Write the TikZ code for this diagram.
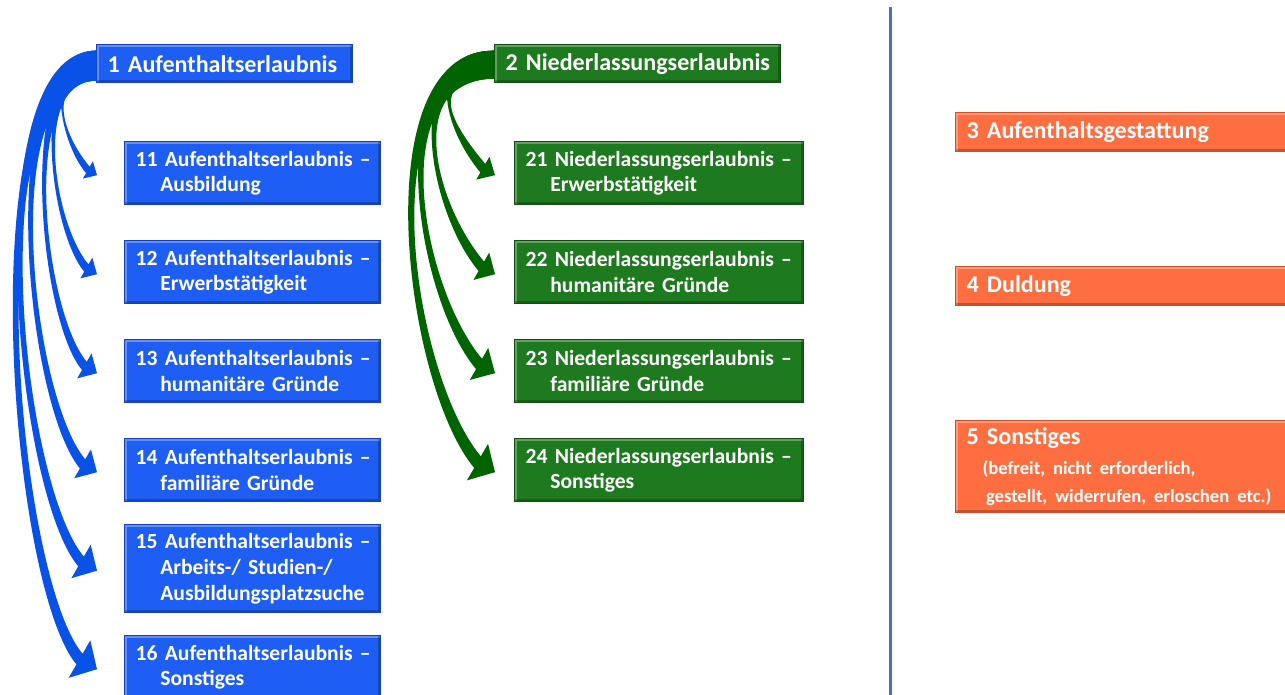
\documentclass[tikz,border=0pt]{standalone}
\usepackage{fontspec}
\setmainfont{Carlito}
\usetikzlibrary{calc}
\hyphenpenalty=10000
\exhyphenpenalty=10000

\definecolor{ablue}{RGB}{31,94,245}
\definecolor{abluedark}{RGB}{22,66,185}
\definecolor{abluearrow}{RGB}{8,82,232}
\definecolor{ngreen}{RGB}{30,122,30}
\definecolor{ngreendark}{RGB}{18,80,18}
\definecolor{ngreenarrow}{RGB}{0,100,0}
\definecolor{sorange}{RGB}{255,110,64}
\definecolor{sorangedark}{RGB}{210,80,40}
\definecolor{sepline}{RGB}{68,114,196}

\begin{document}
\begin{tikzpicture}[x=0.02cm,y=-0.02cm,text=white]
\tikzstyle{bevel}=[path picture={
  \draw[white,opacity=0.3,line width=2.5pt] (path picture bounding box.south west) -- (path picture bounding box.north west) -- (path picture bounding box.north east);
  \draw[black,opacity=0.25,line width=2.5pt] (path picture bounding box.north east) -- (path picture bounding box.south east) -- (path picture bounding box.south west);}]
\tikzstyle{head}=[anchor=north west,minimum height=0.76cm,inner xsep=0.22cm,inner ysep=0pt,align=left,bevel,font=\fontsize{13.7}{16}\selectfont\bfseries]
\tikzstyle{sub}=[anchor=north west,minimum height=1.26cm,inner xsep=0.22cm,inner ysep=0pt,align=left,bevel,font=\fontsize{12.3}{14.7}\selectfont\bfseries]
\tikzstyle{aufbox}=[fill=ablue,draw=abluedark,thick]
\tikzstyle{nlbox}=[fill=ngreen,draw=ngreendark,thick]
\tikzstyle{sonbox}=[fill=sorange,draw=sorangedark,thick,text width=6.22cm]
\useasboundingbox (0,0) rectangle (1285,695);

% Aufenthaltserlaubnis
\node[head,aufbox,text width=4.68cm] (a1) at (96,44) {\mbox{1 Aufenthaltserlaubnis}};
\node[sub,aufbox,text width=4.68cm] (a11) at (124,141) {\mbox{11 Aufenthaltserlaubnis –}\\\hspace*{14pt}Ausbildung};
\node[sub,aufbox,text width=4.68cm] (a12) at (124,240) {\mbox{12 Aufenthaltserlaubnis –}\\\hspace*{14pt}Erwerbstätigkeit};
\node[sub,aufbox,text width=4.68cm] (a13) at (124,339) {\mbox{13 Aufenthaltserlaubnis –}\\\hspace*{14pt}humanitäre Gründe};
\node[sub,aufbox,text width=4.68cm] (a14) at (124,438) {\mbox{14 Aufenthaltserlaubnis –}\\\hspace*{14pt}familiäre Gründe};
\node[sub,aufbox,text width=4.68cm,minimum height=1.76cm] (a15) at (124,524) {\mbox{15 Aufenthaltserlaubnis –}\\\hspace*{14pt}Arbeits-/ Studien-/\\\hspace*{14pt}\mbox{Ausbildungsplatzsuche}};
\node[sub,aufbox,text width=4.68cm] (a16) at (124,635) {\mbox{16 Aufenthaltserlaubnis –}\\\hspace*{14pt}Sonstiges};

% Niederlassungserlaubnis
\node[head,nlbox,text width=5.28cm] (n2) at (494,44) {\mbox{2 Niederlassungserlaubnis}};
\node[sub,nlbox,text width=5.34cm] (n21) at (514,141) {\mbox{21 Niederlassungserlaubnis –}\\\hspace*{14pt}Erwerbstätigkeit};
\node[sub,nlbox,text width=5.34cm] (n22) at (514,240) {\mbox{22 Niederlassungserlaubnis –}\\\hspace*{14pt}humanitäre Gründe};
\node[sub,nlbox,text width=5.34cm] (n23) at (514,339) {\mbox{23 Niederlassungserlaubnis –}\\\hspace*{14pt}familiäre Gründe};
\node[sub,nlbox,text width=5.34cm] (n24) at (514,438) {\mbox{24 Niederlassungserlaubnis –}\\\hspace*{14pt}Sonstiges};

% Sonstige
\node[head,sonbox,minimum height=0.78cm] (s3) at (955,112) {3 Aufenthaltsgestattung};
\node[head,sonbox,minimum height=0.78cm] (s4) at (955,266) {4 Duldung};
\node[head,sonbox,minimum height=1.84cm] (s5) at (955,420) {5 Sonstiges\\[3.4pt]{\fontsize{10.6}{13.6}\selectfont\hspace*{9pt}\mbox{(befreit, nicht erforderlich,}\\\hspace*{11pt}\mbox{gestellt, widerrufen, erloschen etc.)}}};

\coordinate (septop) at (890,7);
\coordinate (sepbot) at (890,695);
\draw[sepline,line width=1.7pt] (septop) -- (sepbot);

% bent arrows
\foreach \c/\a/\b/\w/\h/\l in {a11/30/25/2.1/5.7/6,a12/38/32/2.4/6.8/7,a13/46/39/2.7/8.2/8.3,a14/59/49/3/9.5/9.5,a15/69/57/3.2/11/10.5,a16/72/61/3.5/12.3/11.5}{
  \pgfmathsetmacro\ai{0.96*\a}
  \pgfmathsetmacro\bi{0.96*\b}
  \coordinate (t) at ($(\c.west)+(-27,2)$);
  \coordinate (m) at ($(t)+(150:\l pt)$);
  \fill[abluearrow] ($(a1.west)+(0,-13)$) to[out=180,in=130,out distance=\a pt,in distance=\b pt] ($(m)+(240:\w pt)$) -- ($(m)+(240:\h pt)$) -- (t) -- ($(m)+(60:\h pt)$) -- ($(m)+(60:\w pt)$) to[out=130,in=180,out distance=\bi pt,in distance=\ai pt] ($(a1.west)+(0,17)$) -- cycle;
}
\foreach \c/\a/\b/\w/\h/\l in {n21/40/33/2.8/7.5/8,n22/54/45/3.1/9/9,n23/66/55/3.4/10.5/10.5,n24/75/62/3.8/12/11.5}{
  \pgfmathsetmacro\ai{0.96*\a}
  \pgfmathsetmacro\bi{0.96*\b}
  \coordinate (t) at ($(\c.west)+(-19,2)$);
  \coordinate (m) at ($(t)+(150:\l pt)$);
  \fill[ngreenarrow] ($(n2.west)+(0,-13)$) to[out=180,in=130,out distance=\a pt,in distance=\b pt] ($(m)+(240:\w pt)$) -- ($(m)+(240:\h pt)$) -- (t) -- ($(m)+(60:\h pt)$) -- ($(m)+(60:\w pt)$) to[out=130,in=180,out distance=\bi pt,in distance=\ai pt] ($(n2.west)+(0,15)$) -- cycle;
}
\end{tikzpicture}
\end{document}
